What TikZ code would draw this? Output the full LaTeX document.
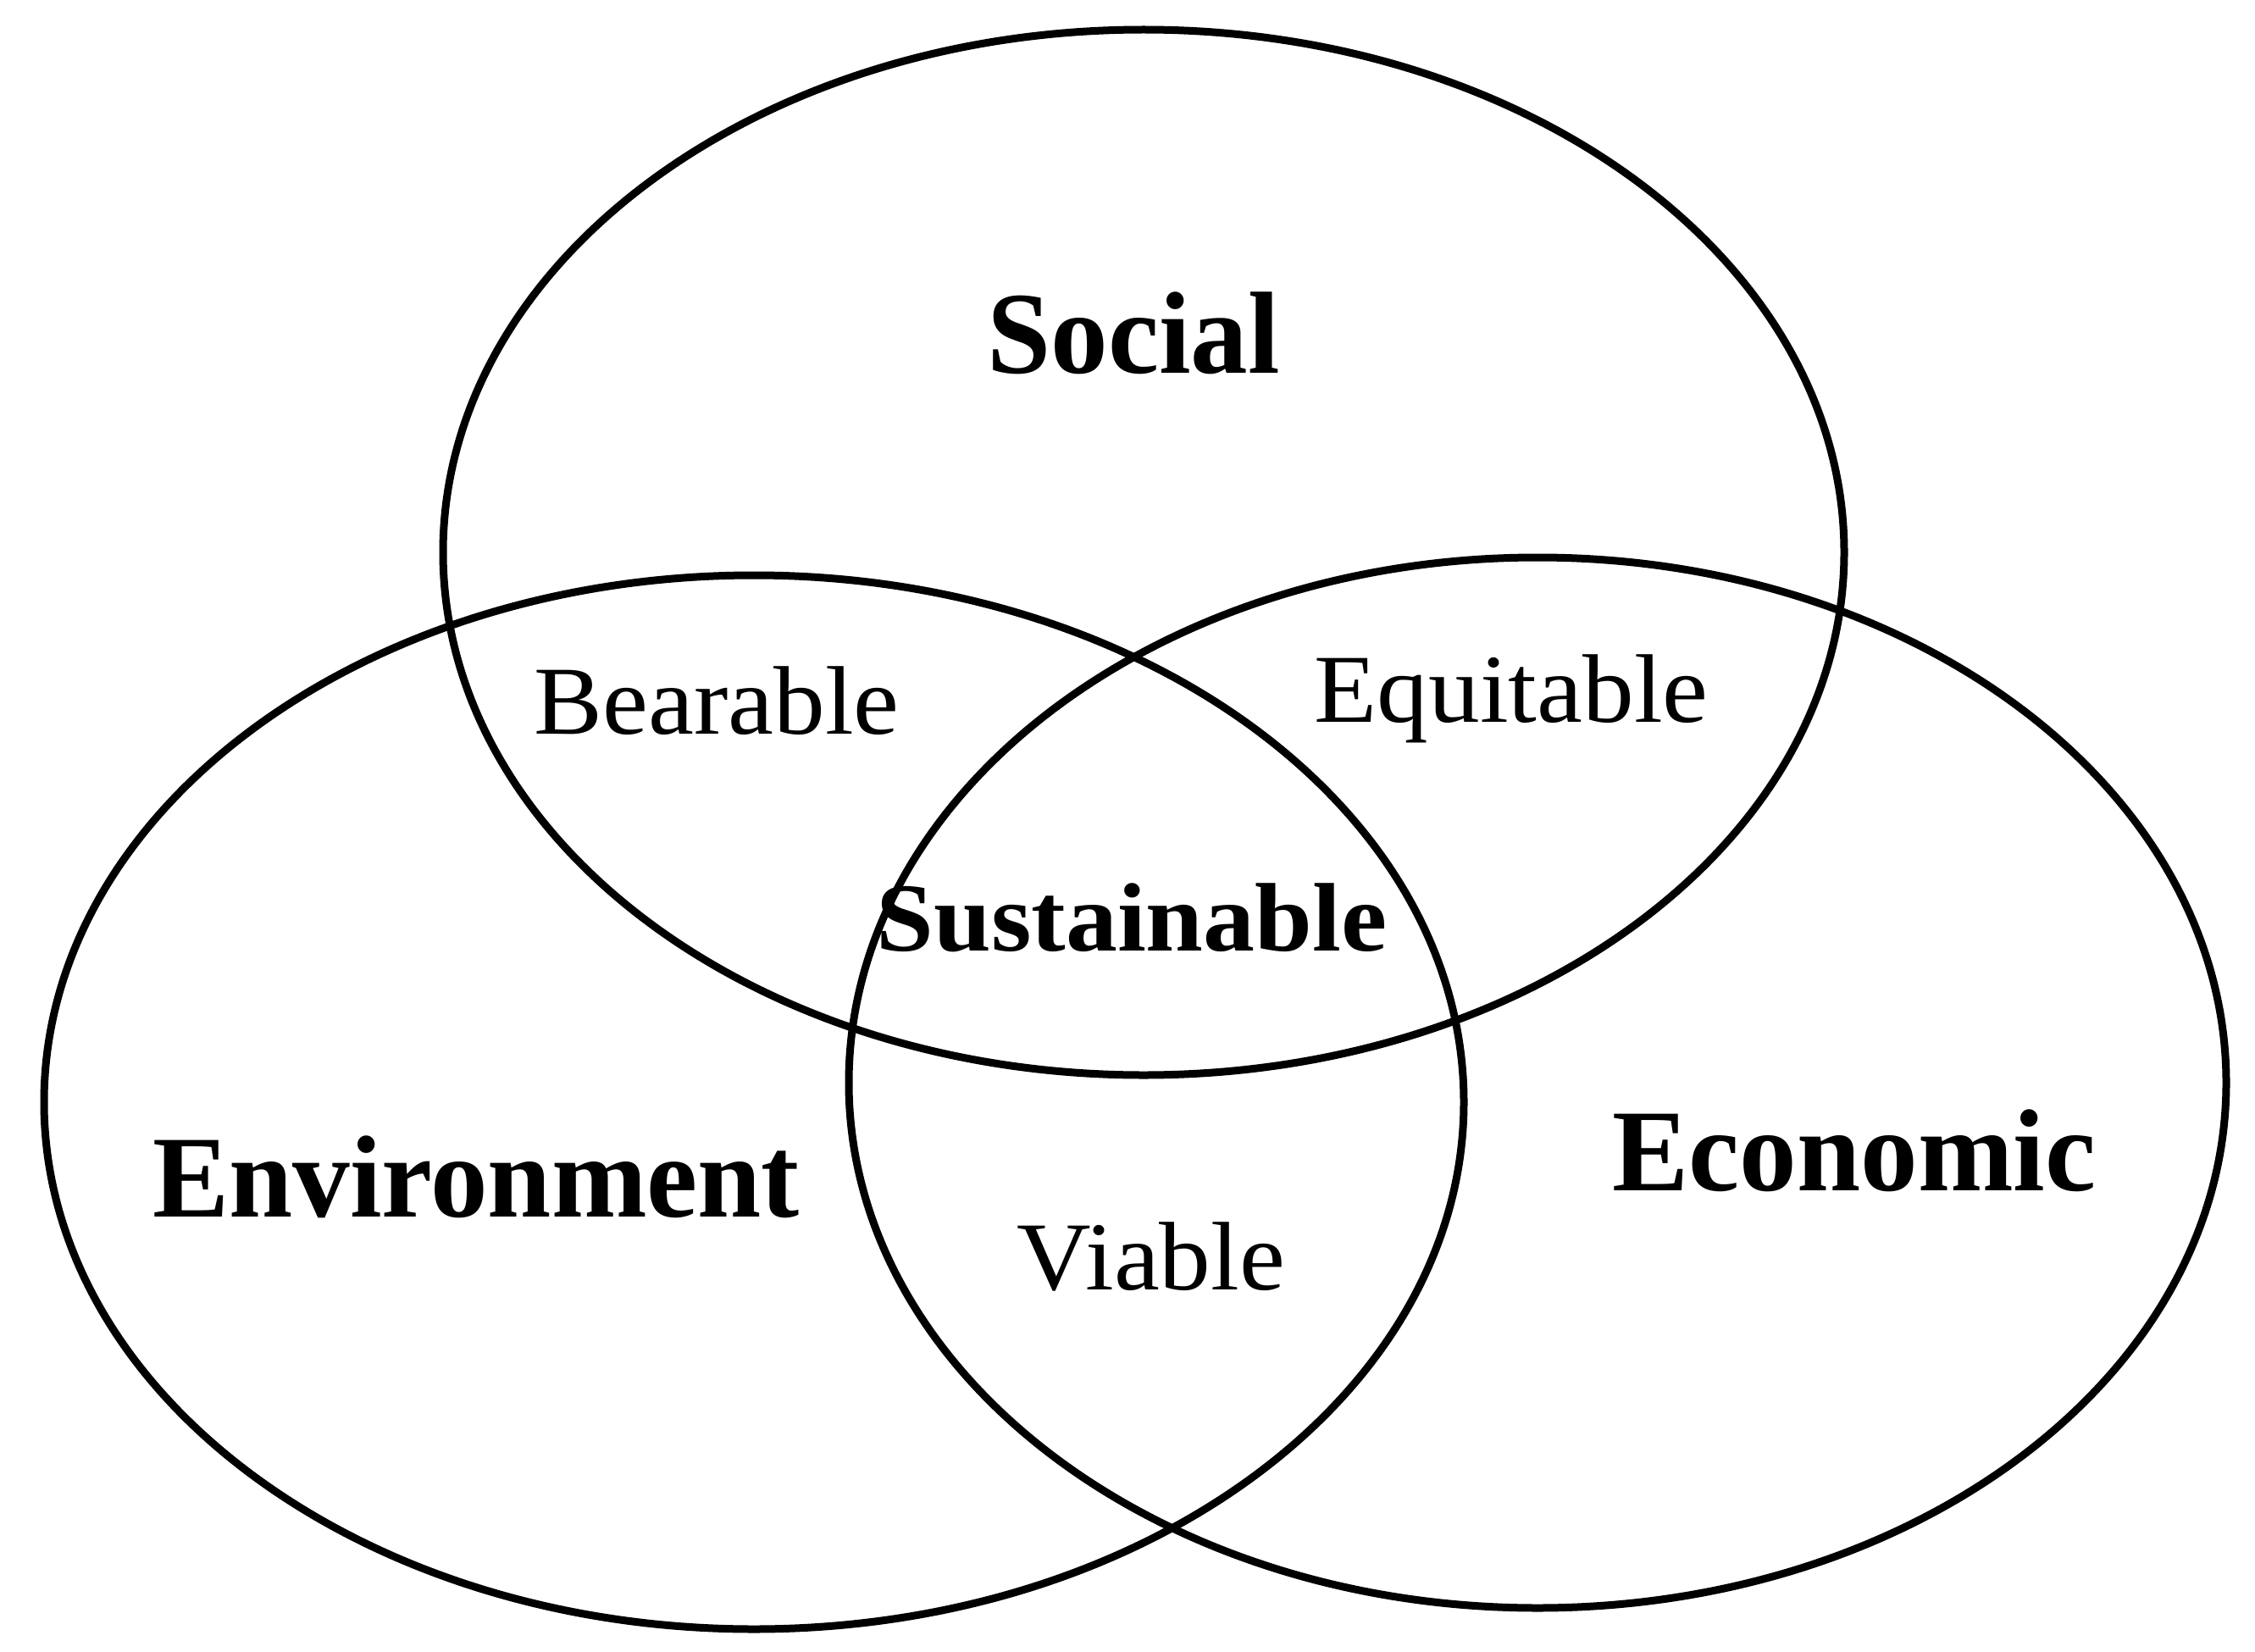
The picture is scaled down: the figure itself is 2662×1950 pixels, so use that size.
\documentclass[tikz,border=0pt]{standalone}
\usepackage{fontspec}
\setmainfont{Liberation Serif}
\usetikzlibrary{shapes.geometric}
\begin{document}
\begin{tikzpicture}[x=1pt,y=-1pt,
  circ/.style={draw=black,line width=9pt,ellipse,inner sep=0pt,outer sep=0pt},
  bigl/.style={inner sep=0pt,anchor=base,xscale=0.98,font=\fontsize{138}{160}\selectfont\bfseries},
  midl/.style={inner sep=0pt,anchor=base,xscale=1.06,font=\fontsize{115}{130}\selectfont\bfseries},
  small/.style={inner sep=0pt,anchor=base,xscale=1.055,font=\fontsize{115}{130}\selectfont}]
\useasboundingbox[fill=white] (0,0) rectangle (2662,1950);
\node[circ,minimum width=1654pt,minimum height=1234pt] (soc) at (1350,652) {};
\node[circ,minimum width=1676pt,minimum height=1244pt] (env) at (890,1301) {};
\node[circ,minimum width=1626pt,minimum height=1240pt] (eco) at (1815,1278) {};
\node[bigl] (tsoc) at (1338,440) {Social};
\node[bigl] (tenv) at (562,1436) {Environment};
\node[bigl] (teco) at (2189,1405) {Economic};
\node[midl] (tsus) at (1336,1122) {Sustainable};
\node[small] (tbea) at (846,866) {Bearable};
\node[small] (tequ) at (1784,852) {Equitable};
\node[small] (tvia) at (1359,1522) {Viable};
\end{tikzpicture}
\end{document}
